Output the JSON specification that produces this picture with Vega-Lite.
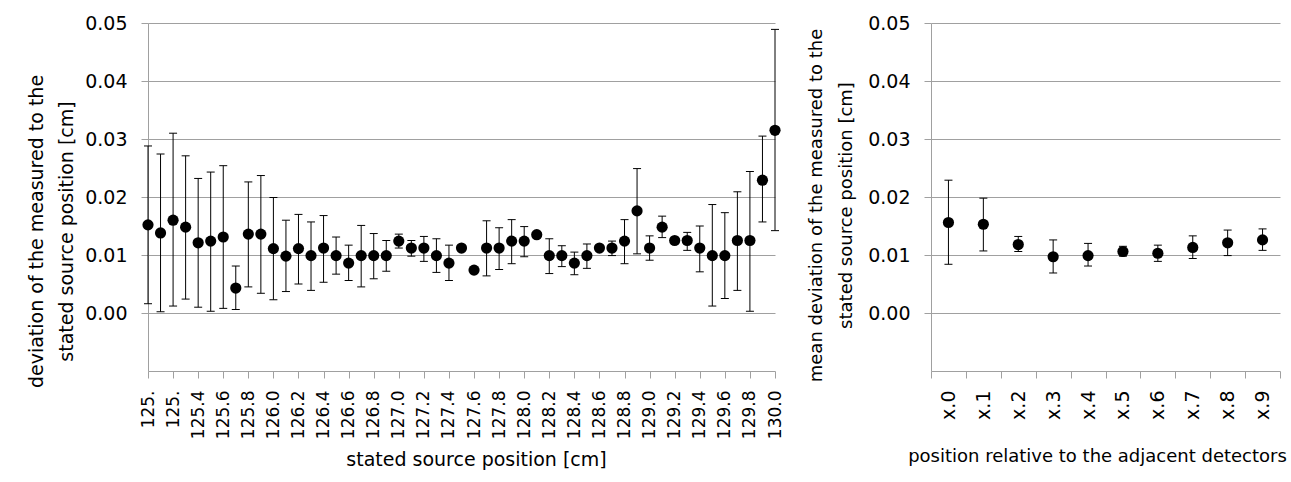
{
  "$schema": "https://vega.github.io/schema/vega-lite/v6.json",
  "padding": {"left": 27, "top": 14, "right": 0, "bottom": 0},
  "background": "white",
  "config": {
    "font": "DejaVu Sans",
    "view": {"stroke": null},
    "axis": {
      "labelFont": "DejaVu Sans",
      "titleFont": "DejaVu Sans",
      "labelColor": "black",
      "titleColor": "black",
      "labelFontSize": 19,
      "titleFontSize": 19,
      "titleFontWeight": "normal",
      "domainColor": "#a0a0a0",
      "tickColor": "#a0a0a0",
      "gridColor": "#a0a0a0",
      "gridOpacity": 1,
      "tickSize": 7,
      "labelOverlap": false
    },
    "concat": {"spacing": 156}
  },
  "datasets": {
    "bypos": [
      {"pos": 125.0, "dev": 0.0152, "lo": 0.0016, "hi": 0.0288},
      {"pos": 125.1, "dev": 0.0138, "lo": 0.0002, "hi": 0.0274},
      {"pos": 125.2, "dev": 0.0160, "lo": 0.0012, "hi": 0.0310},
      {"pos": 125.3, "dev": 0.0148, "lo": 0.0024, "hi": 0.0271},
      {"pos": 125.4, "dev": 0.0121, "lo": 0.0010, "hi": 0.0232},
      {"pos": 125.5, "dev": 0.0124, "lo": 0.0003, "hi": 0.0243},
      {"pos": 125.6, "dev": 0.0131, "lo": 0.0008, "hi": 0.0254},
      {"pos": 125.7, "dev": 0.0043, "lo": 0.0006, "hi": 0.0081},
      {"pos": 125.8, "dev": 0.0136, "lo": 0.0045, "hi": 0.0226},
      {"pos": 125.9, "dev": 0.0136, "lo": 0.0034, "hi": 0.0237},
      {"pos": 126.0, "dev": 0.0111, "lo": 0.0023, "hi": 0.0199},
      {"pos": 126.1, "dev": 0.0098, "lo": 0.0037, "hi": 0.0160},
      {"pos": 126.2, "dev": 0.0111, "lo": 0.0050, "hi": 0.0170},
      {"pos": 126.3, "dev": 0.0099, "lo": 0.0039, "hi": 0.0157},
      {"pos": 126.4, "dev": 0.0112, "lo": 0.0053, "hi": 0.0168},
      {"pos": 126.5, "dev": 0.0099, "lo": 0.0067, "hi": 0.0131},
      {"pos": 126.6, "dev": 0.0086, "lo": 0.0056, "hi": 0.0117},
      {"pos": 126.7, "dev": 0.0099, "lo": 0.0045, "hi": 0.0151},
      {"pos": 126.8, "dev": 0.0099, "lo": 0.0059, "hi": 0.0137},
      {"pos": 126.9, "dev": 0.0099, "lo": 0.0072, "hi": 0.0125},
      {"pos": 127.0, "dev": 0.0124, "lo": 0.0112, "hi": 0.0136},
      {"pos": 127.1, "dev": 0.0112, "lo": 0.0098, "hi": 0.0125},
      {"pos": 127.2, "dev": 0.0112, "lo": 0.0089, "hi": 0.0132},
      {"pos": 127.3, "dev": 0.0099, "lo": 0.0070, "hi": 0.0128},
      {"pos": 127.4, "dev": 0.0086, "lo": 0.0056, "hi": 0.0117},
      {"pos": 127.5, "dev": 0.0112},
      {"pos": 127.6, "dev": 0.0074},
      {"pos": 127.7, "dev": 0.0112, "lo": 0.0064, "hi": 0.0159},
      {"pos": 127.8, "dev": 0.0112, "lo": 0.0075, "hi": 0.0147},
      {"pos": 127.9, "dev": 0.0124, "lo": 0.0085, "hi": 0.0161},
      {"pos": 128.0, "dev": 0.0124, "lo": 0.0097, "hi": 0.0149},
      {"pos": 128.1, "dev": 0.0135},
      {"pos": 128.2, "dev": 0.0099, "lo": 0.0068, "hi": 0.0128},
      {"pos": 128.3, "dev": 0.0099, "lo": 0.0080, "hi": 0.0116},
      {"pos": 128.4, "dev": 0.0086, "lo": 0.0066, "hi": 0.0105},
      {"pos": 128.5, "dev": 0.0099, "lo": 0.0077, "hi": 0.0119},
      {"pos": 128.6, "dev": 0.0112},
      {"pos": 128.7, "dev": 0.0112, "lo": 0.0099, "hi": 0.0124},
      {"pos": 128.8, "dev": 0.0124, "lo": 0.0085, "hi": 0.0161},
      {"pos": 128.9, "dev": 0.0176, "lo": 0.0102, "hi": 0.0249},
      {"pos": 129.0, "dev": 0.0112, "lo": 0.0091, "hi": 0.0133},
      {"pos": 129.1, "dev": 0.0148, "lo": 0.0130, "hi": 0.0167},
      {"pos": 129.2, "dev": 0.0125},
      {"pos": 129.3, "dev": 0.0125, "lo": 0.0108, "hi": 0.0139},
      {"pos": 129.4, "dev": 0.0112, "lo": 0.0071, "hi": 0.0150},
      {"pos": 129.5, "dev": 0.0099, "lo": 0.0012, "hi": 0.0187},
      {"pos": 129.6, "dev": 0.0099, "lo": 0.0025, "hi": 0.0173},
      {"pos": 129.7, "dev": 0.0125, "lo": 0.0039, "hi": 0.0209},
      {"pos": 129.8, "dev": 0.0125, "lo": 0.0003, "hi": 0.0244},
      {"pos": 129.9, "dev": 0.0229, "lo": 0.0157, "hi": 0.0305},
      {"pos": 130.0, "dev": 0.0315, "lo": 0.0142, "hi": 0.0489}
    ],
    "byrel": [
      {"rel": "x.0", "dev": 0.0156, "lo": 0.0084, "hi": 0.0229},
      {"rel": "x.1", "dev": 0.0153, "lo": 0.0107, "hi": 0.0198},
      {"rel": "x.2", "dev": 0.0118, "lo": 0.0106, "hi": 0.0132},
      {"rel": "x.3", "dev": 0.0097, "lo": 0.0069, "hi": 0.0126},
      {"rel": "x.4", "dev": 0.0099, "lo": 0.0081, "hi": 0.0120},
      {"rel": "x.5", "dev": 0.0106, "lo": 0.0098, "hi": 0.0115},
      {"rel": "x.6", "dev": 0.0103, "lo": 0.0089, "hi": 0.0117},
      {"rel": "x.7", "dev": 0.0113, "lo": 0.0094, "hi": 0.0133},
      {"rel": "x.8", "dev": 0.0121, "lo": 0.0099, "hi": 0.0143},
      {"rel": "x.9", "dev": 0.0126, "lo": 0.0108, "hi": 0.0145}
    ]
  },
  "bounds": "flush",
  "hconcat": [
    {
      "width": 627,
      "height": 348,
      "data": {"name": "bypos"},
      "encoding": {
        "x": {
          "field": "pos",
          "type": "quantitative",
          "scale": {"domain": [125, 130], "nice": false, "zero": false},
          "axis": {
            "values": [125.0, 125.2, 125.4, 125.6, 125.8, 126.0, 126.2, 126.4, 126.6, 126.8, 127.0, 127.2, 127.4, 127.6, 127.8, 128.0, 128.2, 128.4, 128.6, 128.8, 129.0, 129.2, 129.4, 129.6, 129.8, 130.0],
            "labelExpr": "datum.value < 125.3 ? '125.' : format(datum.value, '.1f')",
            "labelAngle": -90,
            "labelFontSize": 17,
            "labelPadding": 12,
            "grid": false,
            "title": "stated source position [cm]",
            "titlePadding": 12,
            "titleX": 328
          }
        }
      },
      "layer": [
        {
          "transform": [{"filter": "isValid(datum.hi)"}],
          "mark": {"type": "rule", "color": "black", "strokeWidth": 1},
          "encoding": {
            "y": {
              "field": "lo",
              "type": "quantitative",
              "scale": {"domain": [-0.01, 0.05], "nice": false},
              "axis": {
                "values": [0, 0.01, 0.02, 0.03, 0.04, 0.05],
                "format": ".2f",
                "grid": true,
                "labelPadding": 14,
                "titlePadding": 8,
                "titleLineHeight": 30,
                "titleY": 208
              },
              "title": ["deviation of the measured to the", "stated source position [cm]"]
            },
            "y2": {"field": "hi"}
          }
        },
        {
          "transform": [{"filter": "isValid(datum.hi)"}],
          "mark": {"type": "tick", "orient": "horizontal", "size": 8, "thickness": 1, "color": "black", "opacity": 1},
          "encoding": {
            "y": {"field": "lo", "type": "quantitative", "title": ["deviation of the measured to the", "stated source position [cm]"]}
          }
        },
        {
          "transform": [{"filter": "isValid(datum.hi)"}],
          "mark": {"type": "tick", "orient": "horizontal", "size": 8, "thickness": 1, "color": "black", "opacity": 1},
          "encoding": {
            "y": {"field": "hi", "type": "quantitative", "title": ["deviation of the measured to the", "stated source position [cm]"]}
          }
        },
        {
          "mark": {"type": "circle", "size": 125, "color": "black", "opacity": 1},
          "encoding": {
            "y": {"field": "dev", "type": "quantitative", "title": ["deviation of the measured to the", "stated source position [cm]"]}
          }
        }
      ]
    },
    {
      "width": 349,
      "height": 348,
      "data": {"name": "byrel"},
      "encoding": {
        "x": {
          "field": "rel",
          "type": "nominal",
          "sort": null,
          "scale": {"paddingInner": 0, "paddingOuter": 0},
          "axis": {
            "labelAngle": -90,
            "labelPadding": 12,
            "tickBand": "extent",
            "grid": false,
            "title": "position relative to the adjacent detectors",
            "titleFontSize": 18,
            "titlePadding": 28,
            "titleX": 166
          }
        }
      },
      "layer": [
        {
          "mark": {"type": "rule", "color": "black", "strokeWidth": 1},
          "encoding": {
            "y": {
              "field": "lo",
              "type": "quantitative",
              "scale": {"domain": [-0.01, 0.05], "nice": false},
              "axis": {
                "values": [0, 0.01, 0.02, 0.03, 0.04, 0.05],
                "format": ".2f",
                "grid": true,
                "labelPadding": 14,
                "titlePadding": 12,
                "titleFontSize": 18,
                "titleLineHeight": 30,
                "titleY": 182
              },
              "title": ["mean deviation of the measured to the", "stated source position [cm]"]
            },
            "y2": {"field": "hi"}
          }
        },
        {
          "mark": {"type": "tick", "orient": "horizontal", "size": 8, "thickness": 1, "color": "black", "opacity": 1},
          "encoding": {
            "y": {"field": "lo", "type": "quantitative", "title": ["mean deviation of the measured to the", "stated source position [cm]"]}
          }
        },
        {
          "mark": {"type": "tick", "orient": "horizontal", "size": 8, "thickness": 1, "color": "black", "opacity": 1},
          "encoding": {
            "y": {"field": "hi", "type": "quantitative", "title": ["mean deviation of the measured to the", "stated source position [cm]"]}
          }
        },
        {
          "mark": {"type": "circle", "size": 125, "color": "black", "opacity": 1},
          "encoding": {
            "y": {"field": "dev", "type": "quantitative", "title": ["mean deviation of the measured to the", "stated source position [cm]"]}
          }
        }
      ]
    }
  ]
}
